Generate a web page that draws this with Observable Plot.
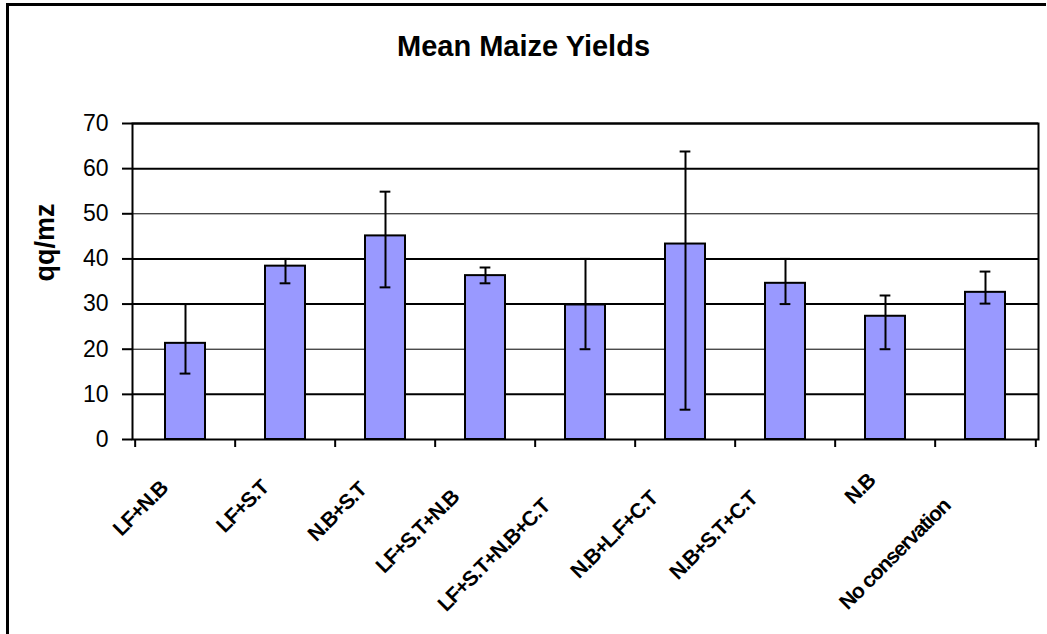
<!DOCTYPE html>
<html>
<head>
<meta charset="utf-8">
<script src="https://cdn.jsdelivr.net/npm/d3@7"></script>
<script src="https://cdn.jsdelivr.net/npm/@observablehq/plot@0.6"></script>
<style>
  html, body { margin: 0; padding: 0; background: #fff; }
  #wrap { position: relative; width: 1047px; height: 634px; overflow: hidden; background: #fff; }
  #border { position: absolute; left: 6px; top: 3px; width: 1040px; height: 700px;
            border-top: 3px solid #000; border-left: 3px solid #000; box-sizing: border-box; }
  #title { position: absolute; left: 0; top: 32px; width: 1047px; text-align: center;
           font: bold 29px "Liberation Sans", Arial, sans-serif; line-height: 1; color: #000; }
  #chart { position: absolute; left: 0; top: 0; }
</style>
</head>
<body>
<div id="wrap">
  <div id="border"></div>
  <div id="title">Mean Maize Yields</div>
  <div id="chart"></div>
</div>
<script>
// ---- data ----
const categories = ["LF+N.B", "LF+S.T", "N.B+S.T", "LF+S.T+N.B", "LF+S.T+N.B+C.T",
                    "N.B+L.F+C.T", "N.B+S.T+C.T", "N.B", "No conservation"];
const means   = [21.3, 38.4, 45.1, 36.3, 29.8, 43.3, 34.6, 27.3, 32.6];
const errLow  = [14.6, 34.6, 33.7, 34.6, 20.0,  6.6, 30.0, 20.0, 30.1];
const errHigh = [30.0, 40.0, 54.9, 38.1, 40.0, 63.8, 40.0, 31.9, 37.2];
const yTicks  = [0, 10, 20, 30, 40, 50, 60, 70];
const yLabel  = "qq/mz";

const data = categories.map((c, i) => ({c, mean: means[i], lo: errLow[i], hi: errHigh[i]}));

const W = 1047, H = 634, ml = 132, mr = 9, mt = 123, mb = 195;
const step = (W - ml - mr) / categories.length;
const capInset = (step * 0.4 - 11) / 2;
const font = '"Liberation Sans", Arial, sans-serif';

const chart = Plot.plot({
  width: W, height: H,
  marginLeft: ml, marginRight: mr, marginTop: mt, marginBottom: mb,
  style: {fontFamily: font, fontSize: "23px", background: "transparent", overflow: "visible", color: "#000"},
  x: {domain: categories, paddingInner: 0.6, paddingOuter: 0.3, axis: null},
  y: {domain: [0, 70], axis: null},
  marks: [
    Plot.ruleY(yTicks.filter(t => t > 0 && t !== 20 && t !== 50), {stroke: "#000", strokeWidth: 2}),
    Plot.ruleY(yTicks.filter(t => t === 20 || t === 50), {stroke: "#000", strokeWidth: 1}),
    Plot.barY(data, {x: "c", y: "mean", fill: "#9999FF", stroke: "#000", strokeWidth: 2}),
    Plot.ruleX(data, {x: "c", y1: "lo", y2: "hi", stroke: "#000", strokeWidth: 2}),
    Plot.tickY(data, {x: "c", y: "lo", stroke: "#000", strokeWidth: 2, insetLeft: capInset, insetRight: capInset}),
    Plot.tickY(data, {x: "c", y: "hi", stroke: "#000", strokeWidth: 2, insetLeft: capInset, insetRight: capInset}),
    Plot.frame({stroke: "#000", strokeWidth: 2}),
    Plot.axisY({ticks: yTicks, tickSize: 10, tickPadding: 14, strokeWidth: 2, label: null, tickFormat: d => String(d), fontSize: 23}),
    // category boundary ticks below the x axis
    Plot.ruleX(categories, {x: d => d, y1: 0, y2: 0, dx: -step / 2, insetBottom: -8, stroke: "#000", strokeWidth: 2}),
    Plot.ruleX(categories.slice(-1), {x: d => d, y1: 0, y2: 0, dx: step / 2, insetBottom: -8, stroke: "#000", strokeWidth: 2}),
    // rotated category labels
    Plot.text(categories, {x: d => d, y: 0, text: d => d, textAnchor: "end", rotate: -45,
                           fontSize: 21, fontWeight: "bold", fill: "#000"}),
    Plot.text([yLabel], {frameAnchor: "left", rotate: -90, dx: -87, fontSize: 27, fontWeight: "bold", fill: "#000"})
  ]
});

document.getElementById("chart").appendChild(chart);

// Excel-like placement of rotated labels: offset depends on the label length
const s2 = Math.SQRT2;
chart.querySelectorAll("text").forEach(t => {
  if (!categories.includes(t.textContent)) return;
  t.style.letterSpacing = "-1.2px";
  const tr = t.getAttribute("transform") || "";
  const m = tr.match(/translate\(([-\d.e]+),\s*([-\d.e]+)\)/);
  if (!m) return;
  const L = t.getComputedTextLength() + 5;
  const x = +m[1] + (-8 - 0.31 * L) / s2;
  const y = +m[2] + (42 + 0.31 * L) / s2;
  t.setAttribute("transform", `translate(${x},${y}) rotate(-45)`);
});
</script>
</body>
</html>
